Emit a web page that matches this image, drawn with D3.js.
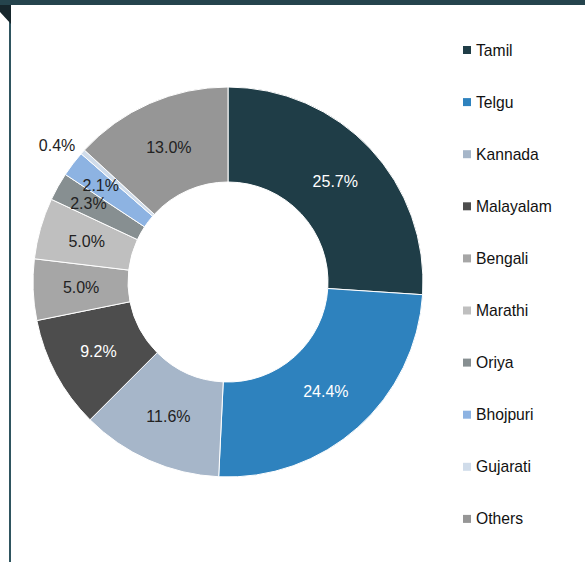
<!DOCTYPE html>
<html>
<head>
<meta charset="utf-8">
<script src="https://cdn.jsdelivr.net/npm/d3@7"></script>
<style>
body { margin: 0; background: #fff; }
svg { display: block; font-family: "Liberation Sans", Arial, sans-serif; }
</style>
</head>
<body>
<svg width="585" height="562"></svg>
<script>
var languages = ["Tamil", "Telgu", "Kannada", "Malayalam", "Bengali", "Marathi", "Oriya", "Bhojpuri", "Gujarati", "Others"];
var shares = [25.7, 24.4, 11.6, 9.2, 5.0, 5.0, 2.3, 2.1, 0.4, 13.0];
var sliceColors = ["#1f3d47", "#2e82be", "#a6b6c9", "#4d4d4d", "#a6a6a6", "#bfbfbf", "#878f91", "#8db3e2", "#d0dcea", "#969696"];
var labelColors = ["#fff", "#fff", "#222", "#fff", "#222", "#222", "#222", "#222", "#222", "#222"];

var svg = d3.select("svg");

// frame: top band, left rule and corner tab
svg.append("rect").attr("x", 0).attr("y", 0).attr("width", 585).attr("height", 5).attr("fill", "#25444d");
svg.append("rect").attr("x", 9).attr("y", 5).attr("width", 2).attr("height", 557).attr("fill", "#2f5560");
svg.append("path").attr("d", "M0,5L11,5L11,24L0,12Z").attr("fill", "#16262c");

var cx = 228, cy = 282, outerR = 195, innerR = 100;
var g = svg.append("g").attr("transform", "translate(" + cx + "," + cy + ")");

var pie = d3.pie().sort(null).value(function(d) { return d; });
var arcs = pie(shares);
var arc = d3.arc().innerRadius(innerR).outerRadius(outerR);
var labelArc = d3.arc().innerRadius(147).outerRadius(147);
var smallArc = d3.arc().innerRadius(160).outerRadius(160);
var outArc = d3.arc().innerRadius(205).outerRadius(205);

g.selectAll("path.slice").data(arcs).enter().append("path")
	.attr("class", "slice")
	.attr("d", arc)
	.attr("fill", function(d, i) { return sliceColors[i]; })
	.attr("stroke", "#fff")
	.attr("stroke-width", 1);

g.selectAll("text.lbl").data(arcs).enter().append("text")
	.attr("class", "lbl")
	.attr("transform", function(d) {
		var p = d.data < 1 ? outArc.centroid(d) : (d.data < 3 ? smallArc.centroid(d) : labelArc.centroid(d));
		return "translate(" + p + ")";
	})
	.attr("text-anchor", function(d) { return d.data < 1 ? "end" : "middle"; })
	.attr("dy", "0.35em")
	.attr("font-size", 16)
	.attr("fill", function(d, i) { return d.data < 1 ? "#222" : labelColors[i]; })
	.text(function(d) { return d.data.toFixed(1) + "%"; });

var legend = svg.append("g").selectAll("g").data(languages).enter().append("g")
	.attr("transform", function(d, i) { return "translate(463," + (50 + i * 52.1) + ")"; });
legend.append("rect").attr("x", 0).attr("y", -4).attr("width", 8).attr("height", 8)
	.attr("fill", function(d, i) { return sliceColors[i]; });
legend.append("text").attr("x", 13).attr("dy", "0.35em").attr("font-size", 15.7).attr("fill", "#111")
	.text(function(d) { return d; });
</script>
</body>
</html>
